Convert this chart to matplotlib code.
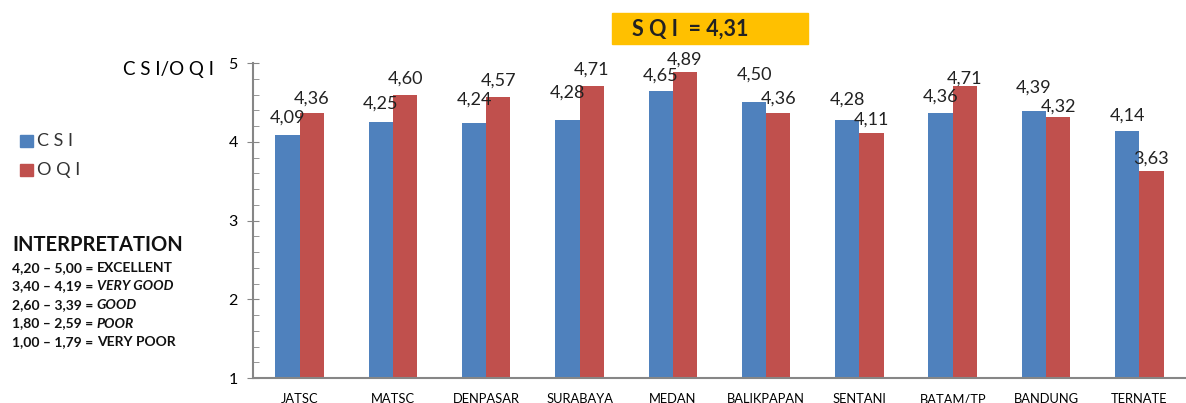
import matplotlib.pyplot as plt
from matplotlib.patches import Rectangle
import numpy as np

plt.rcParams['font.family'] = ['Lato', 'DejaVu Sans']

# data
cities = ["JATSC", "MATSC", "DENPASAR", "SURABAYA", "MEDAN",
          "BALIKPAPAN", "SENTANI", "BATAM/TP", "BANDUNG", "TERNATE"]
csi = [4.09, 4.25, 4.24, 4.28, 4.65, 4.50, 4.28, 4.36, 4.39, 4.14]
oqi = [4.36, 4.60, 4.57, 4.71, 4.89, 4.36, 4.11, 4.71, 4.32, 3.63]
sqi = "4,31"
interp_ranges = ["4,20 \u2013 5,00 = ", "3,40 \u2013 4,19 = ", "2,60 \u2013 3,39 = ",
                 "1,80 \u2013 2,59 = ", "1,00 \u2013 1,79 = "]
interp_labels = ["EXCELLENT", "VERY GOOD", "GOOD", "POOR", "VERY POOR"]
interp_italic = [False, True, True, True, False]

BLUE = "#4F81BD"
RED = "#C0504D"
GREY = "#868686"

fig = plt.figure(figsize=(11.86, 4.03), dpi=100)
ax = fig.add_axes([0.2133, 0.062, 0.7867, 0.7816])

x = np.arange(len(cities))
w = 0.26
ax.bar(x - w / 2, np.array(csi) - 1, w, bottom=1, color=BLUE)
ax.bar(x + w / 2, np.array(oqi) - 1, w, bottom=1, color=RED)

# label lift above bar top (pixels), labels were nudged by hand in the original
lift_csi = [12, 13, 18, 22, 10, 23, 15, 12, 18, 10]
lift_oqi = [10, 11, 11, 11, 7, 10, 8, 2, 5, 7]

fmt = lambda v: f"{v:.2f}".replace(".", ",")
for xi, v, d in zip(x, csi, lift_csi):
    ax.annotate(fmt(v), (xi - w / 2, v), xytext=(0, d * 0.72), textcoords="offset points",
                ha="center", va="baseline", fontsize=13, color="#222222")
for xi, v, d in zip(x, oqi, lift_oqi):
    ax.annotate(fmt(v), (xi + w / 2, v), xytext=(0, d * 0.72), textcoords="offset points",
                ha="center", va="baseline", fontsize=13, color="#222222")

ax.set_xlim(-0.5, len(cities) - 0.5)
ax.set_ylim(1, 5)
ax.set_yticks([1, 2, 3, 4, 5])
ax.set_yticks(np.arange(1, 5.01, 0.2), minor=True)
ax.set_xticks(x)
ax.set_xticklabels(cities, fontsize=9.3)
ax.tick_params(axis="x", length=0, pad=11)
ax.tick_params(axis="y", which="major", direction="inout", length=8, color=GREY,
               labelsize=11.5, pad=7)
ax.tick_params(axis="y", which="minor", direction="in", length=4, color=GREY)
for s in ["top", "right"]:
    ax.spines[s].set_visible(False)
ax.spines["left"].set_color(GREY)
ax.spines["bottom"].set_color(GREY)
ax.spines["left"].set_linewidth(1.5)
ax.spines["bottom"].set_linewidth(1.5)

# y label
fig.text(214 / 1186, 1 - 70 / 403, "C S I/O Q I", fontsize=13.5, ha="right", va="center")

# SQI box
fig.patches.append(Rectangle((612 / 1186, 1 - 44 / 403), 196 / 1186, 31 / 403,
                             transform=fig.transFigure, color="#FFC000", zorder=0))
fig.text(632 / 1186, 1 - 29 / 403, f"S Q I  = {sqi}", fontsize=15.5,
         fontweight="bold", color="#222222", va="center")

# legend
for yy, col, lab in [(141, BLUE, "C S I"), (170, RED, "O Q I")]:
    fig.patches.append(Rectangle((20 / 1186, 1 - (yy + 6) / 403), 13 / 1186, 12 / 403,
                                 transform=fig.transFigure, color=col))
    fig.text(37 / 1186, 1 - yy / 403, lab, fontsize=13, va="center", color="#333333")

# interpretation
fig.text(12 / 1186, 1 - 245 / 403, "INTERPRETATION", fontsize=14.5,
         fontweight="bold", va="center", color="#111111")
for i, (r, lab, it) in enumerate(zip(interp_ranges, interp_labels, interp_italic)):
    yy = 1 - (268 + 18.5 * i) / 403
    t = fig.text(12 / 1186, yy, r, fontsize=10, fontweight="bold", va="center",
                 color="#111111")
    ax.annotate(lab, xy=(1, 0.5), xycoords=t, va="center", ha="left",
                fontsize=10, fontweight="bold",
                fontstyle="italic" if it else "normal", color="#111111",
                annotation_clip=False)

fig.savefig("out.png", dpi=100)
